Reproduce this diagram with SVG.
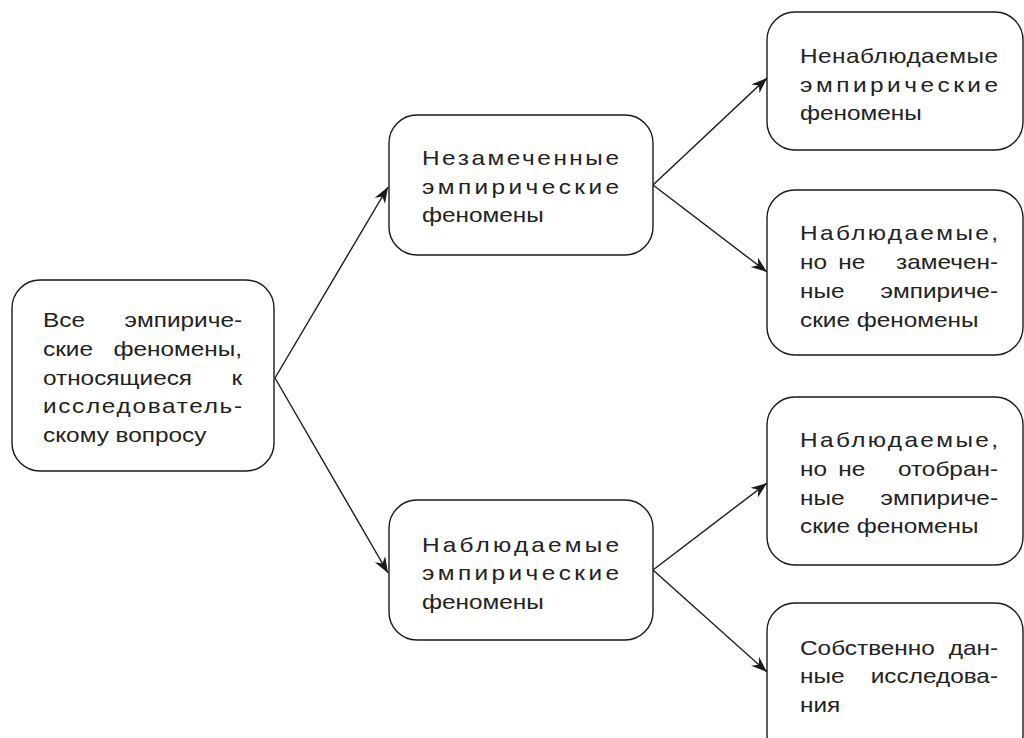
<svg xmlns="http://www.w3.org/2000/svg" width="1024" height="738" viewBox="0 0 1024 738">
<style>
.box{fill:#fff;stroke:#1a1a1a;stroke-width:1.4}
.t{font-family:"Liberation Sans","Arial",sans-serif;font-size:21px;fill:#222}
.e{text-anchor:end}
.c{stroke:#1a1a1a;stroke-width:1.4;fill:none;marker-end:url(#ah)}
</style>
<defs>
<marker id="ah" markerUnits="userSpaceOnUse" markerWidth="18" markerHeight="14" refX="16" refY="6" orient="auto">
<path d="M0,0 L16,6 L0,12 L5,6 z" fill="#1a1a1a"/>
</marker>
</defs>
<rect width="1024" height="738" fill="#fff"/>
<g id="connectors">
<line class="c" x1="275" y1="378" x2="388" y2="187"/>
<line class="c" x1="275" y1="378" x2="388" y2="573"/>
<line class="c" x1="653" y1="185" x2="767" y2="78"/>
<line class="c" x1="653" y1="185" x2="767" y2="272"/>
<line class="c" x1="653" y1="570" x2="767" y2="483"/>
<line class="c" x1="653" y1="570" x2="767" y2="672"/>
</g>
<g id="n-all">
<rect class="box" x="12" y="280" width="262" height="191" rx="28"/>
<g transform="translate(43 0) scale(1.16 1)">
<text class="t" x="0" y="327">Все</text><text class="t e" x="171.6" y="327">эмпириче-</text>
<text class="t" x="0" y="356">ские</text><text class="t e" x="171.6" y="356">феномены,</text>
<text class="t" x="0" y="385">относящиеся</text><text class="t e" x="171.6" y="385">к</text>
<text class="t" x="0" y="413" textLength="171.6" lengthAdjust="spacing">исследователь-</text>
<text class="t" x="0" y="442">скому вопросу</text>
</g>
</g>
<g id="n-unnoticed">
<rect class="box" x="389" y="115" width="264" height="140" rx="28"/>
<g transform="translate(422 0) scale(1.16 1)">
<text class="t" x="0" y="165" textLength="169.8" lengthAdjust="spacing">Незамеченные</text>
<text class="t" x="0" y="194" textLength="169.8" lengthAdjust="spacing">эмпирические</text>
<text class="t" x="0" y="222">феномены</text>
</g>
</g>
<g id="n-observed">
<rect class="box" x="389" y="500" width="264" height="140" rx="28"/>
<g transform="translate(422 0) scale(1.16 1)">
<text class="t" x="0" y="552" textLength="169.8" lengthAdjust="spacing">Наблюдаемые</text>
<text class="t" x="0" y="580" textLength="169.8" lengthAdjust="spacing">эмпирические</text>
<text class="t" x="0" y="609">феномены</text>
</g>
</g>
<g id="n-unobservable">
<rect class="box" x="767" y="12" width="256" height="138" rx="28"/>
<g transform="translate(800 0) scale(1.16 1)">
<text class="t" x="0" y="63" textLength="170.7" lengthAdjust="spacing">Ненаблюдаемые</text>
<text class="t" x="0" y="92" textLength="170.7" lengthAdjust="spacing">эмпирические</text>
<text class="t" x="0" y="120">феномены</text>
</g>
</g>
<g id="n-observed-unnoticed">
<rect class="box" x="767" y="190" width="256" height="165" rx="28"/>
<g transform="translate(800 0) scale(1.16 1)">
<text class="t" x="0" y="240" textLength="170.7" lengthAdjust="spacing">Наблюдаемые,</text>
<text class="t" x="0" y="269">но</text><text class="t" x="33" y="269">не</text><text class="t e" x="170.7" y="269">замечен-</text>
<text class="t" x="0" y="298">ные</text><text class="t e" x="170.7" y="298">эмпириче-</text>
<text class="t" x="0" y="327">ские феномены</text>
</g>
</g>
<g id="n-observed-unselected">
<rect class="box" x="767" y="397" width="256" height="168" rx="28"/>
<g transform="translate(800 0) scale(1.16 1)">
<text class="t" x="0" y="447" textLength="170.7" lengthAdjust="spacing">Наблюдаемые,</text>
<text class="t" x="0" y="476">но</text><text class="t" x="33" y="476">не</text><text class="t e" x="170.7" y="476">отобран-</text>
<text class="t" x="0" y="505">ные</text><text class="t e" x="170.7" y="505">эмпириче-</text>
<text class="t" x="0" y="533">ские феномены</text>
</g>
</g>
<g id="n-data">
<rect class="box" x="767" y="603" width="256" height="160" rx="28"/>
<g transform="translate(800 0) scale(1.16 1)">
<text class="t" x="0" y="655">Собственно</text><text class="t e" x="170.7" y="655">дан-</text>
<text class="t" x="0" y="683">ные</text><text class="t e" x="170.7" y="683">исследова-</text>
<text class="t" x="0" y="712">ния</text>
</g>
</g>
</svg>
